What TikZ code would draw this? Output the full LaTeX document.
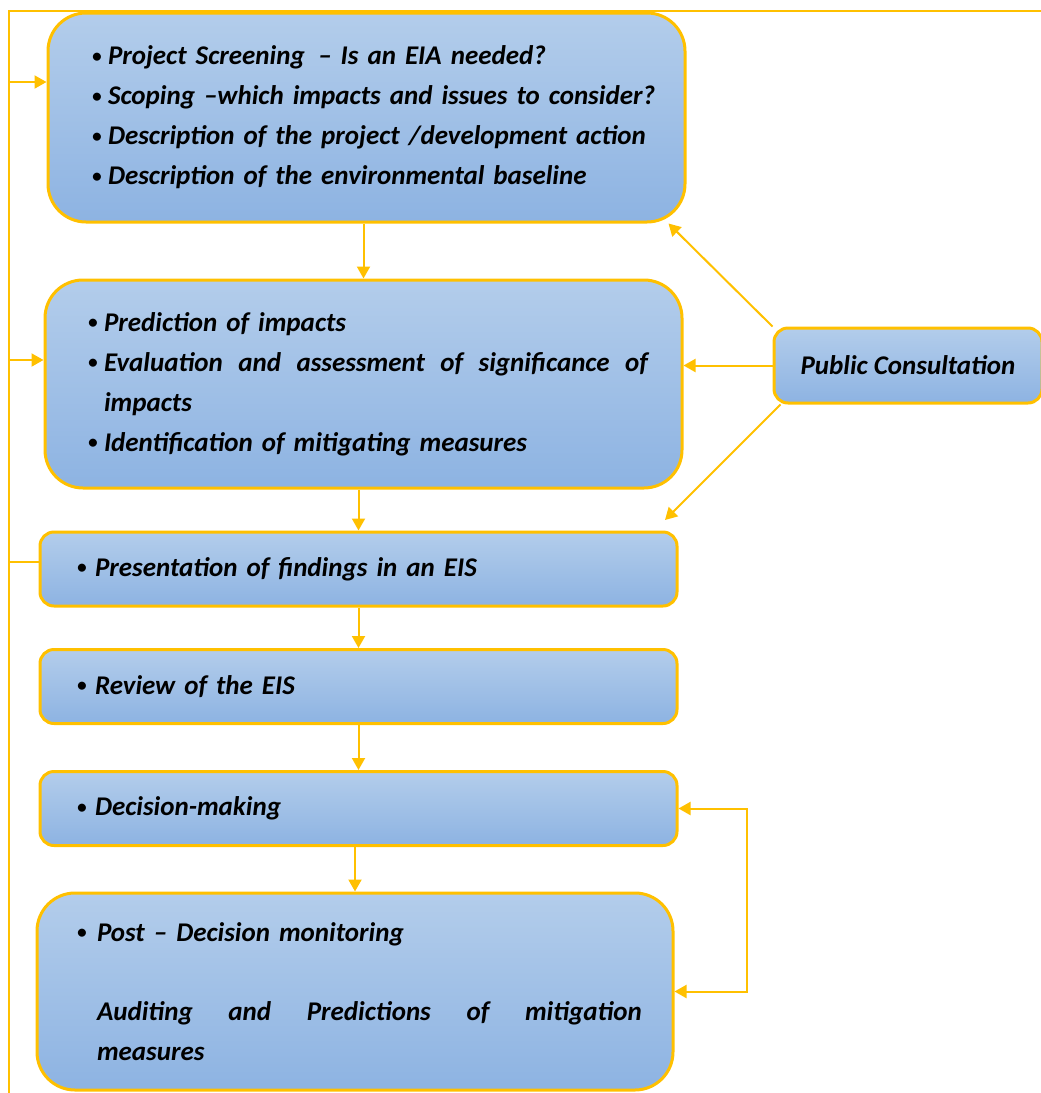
\documentclass[tikz,border=0pt]{standalone}
\usepackage{fontspec}
\setmainfont{Carlito}
\usetikzlibrary{arrows.meta}

\definecolor{gold}{HTML}{FFC000}
\definecolor{boxtop}{HTML}{B3CDEB}
\definecolor{boxbot}{HTML}{8DB3E2}

% bullet item, kept on one line
\newcommand{\bul}[2][16pt]{\makebox[#1][l]{\raisebox{2.5pt}{\fontsize{19}{19}\selectfont•}}\mbox{#2}}

\tikzset{flow/.style={draw=gold,line width=2pt}}

\begin{document}
\begin{tikzpicture}[x=1pt,y=-1pt,>={Triangle[length=12pt,width=13pt]}]
            \useasboundingbox (0,0) rectangle (1041,1093);
            \begin{scope}[every node/.style={draw=gold,line width=3pt,top color=boxtop,bottom color=boxbot,
                    font=\fontsize{27}{40}\selectfont\bfseries\itshape,align=left}]
                \node[rounded corners=38pt,minimum height=209pt,inner xsep=44pt,text width=549pt] (b1) at (366.5,117.5)
                    {\bul{Project Screening \,– Is an EIA needed?}\\
                     \bul{Scoping –which impacts and issues to consider?}\\
                     \bul{Description of the project /development action}\\
                     \bul{Description of the environmental baseline}};
                \node[rounded corners=38pt,minimum height=208pt,inner xsep=43pt,text width=551pt] (b2) at (363.5,384)
                    {\bul{Prediction of impacts}\\
                     \bul{\hbox to 544pt{Evaluation\hfil and\hfil assessment\hfil of\hfil significance\hfil of}}\\
                     \hspace*{16pt}impacts\\
                     \bul{Identification of mitigating measures}};
                \node[rounded corners=14pt,minimum height=74pt,inner xsep=37pt,text width=563pt] (b3) at (358.5,569)
                    {\bul[18pt]{Presentation of findings in an EIS}};
                \node[rounded corners=14pt,minimum height=74pt,inner xsep=37pt,text width=563pt] (b4) at (358.5,686.5)
                    {\bul[18pt]{Review of the EIS}};
                \node[rounded corners=14pt,minimum height=74pt,inner xsep=37pt,text width=563pt] (b5) at (358.5,808.5)
                    {\bul[18pt]{Decision-making}};
                \node[rounded corners=38pt,minimum height=197pt,inner xsep=40pt,text width=556pt] (b6) at (355,991.5)
                    {\bul[20pt]{Post – Decision monitoring}\\[39pt]
                     \hspace*{20pt}\hbox to 545pt{Auditing\hfil and\hfil Predictions\hfil of\hfil mitigation}\\
                     \hspace*{20pt}measures};
                \node[rounded corners=14pt,minimum width=268pt,minimum height=75pt] (pc) at (908,365.5) {Public Consultation};
            \end{scope}
            % main sequence
            \draw[flow,->] (b1.south -| b2.north) -- (b2.north);
            \draw[flow,->] (b2.south -| b3.north) -- (b3.north);
            \draw[flow,->] (b3) -- (b4);
            \draw[flow,->] (b4) -- (b5);
            \draw[flow,->] (b5.south -| b6.north) -- (b6.north);
            % consultation
            \coordinate (pcend) at (665,520);
            \draw[flow,->] (pc.north west) -- ([xshift=-18pt]b1.south east);
            \draw[flow,->] (pc.west) -- (pc.west -| b2.east);
            \draw[flow,->] ([xshift=8pt]pc.south west) -- (pcend);
            % feedback on the left
            \coordinate (topR) at (1045,11);
            \coordinate (topL) at (9,11);
            \coordinate (botL) at (9,1096);
            \coordinate (f1) at (9,82);
            \coordinate (f2) at (9,360);
            \coordinate (f3) at (9,562);
            \draw[flow] (topR) -- (topL) -- (botL);
            \draw[flow,->] (f1) -- (f1 -| b1.west);
            \draw[flow,->] (f2) -- (f2 -| b2.west);
            \draw[flow] (f3) -- (f3 -| b3.west);
            % monitoring loop
            \draw[flow,<->] (b5.east) -- ++(68,0) |- (b6.east);
        \end{tikzpicture}
\end{document}
